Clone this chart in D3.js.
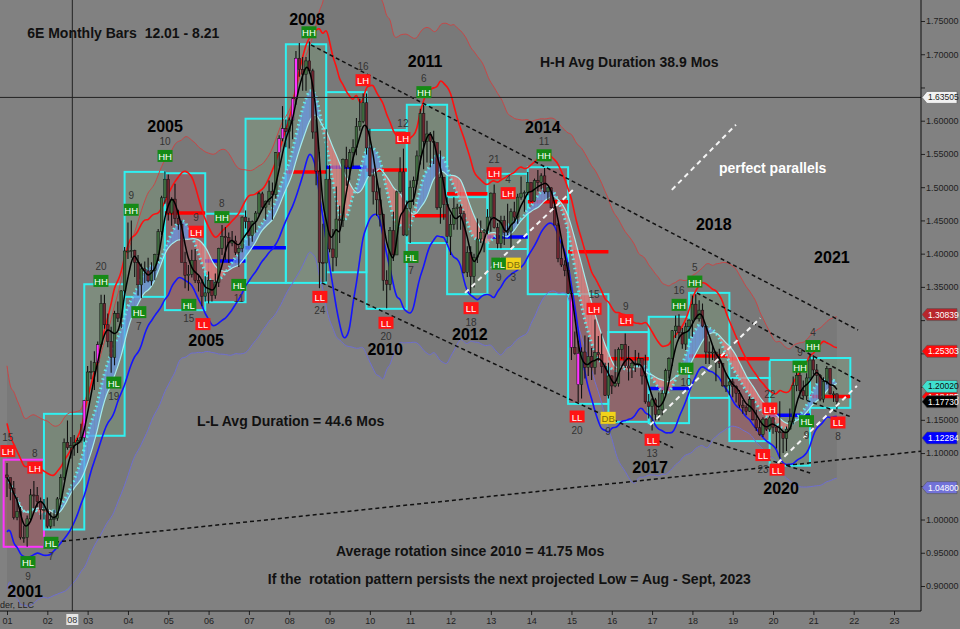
<!DOCTYPE html>
<html>
<head>
<meta charset="UTF-8">
<script src="https://cdn.jsdelivr.net/npm/d3@7"></script>
<style>
  body { margin: 0; background: #818181; }
  svg { display: block; font-family: "Liberation Sans", Arial, sans-serif; }
  .pre { white-space: pre; }
</style>
</head>
<body>
<svg id="chart" width="960" height="629"></svg>
<script>

// ===================== data (monthly bars, Jan 2001 .. Aug 2021) =====================
const firstYear = 2001;
const firstOpen = 1.067;

const barClose = [
  [1.063,1.047,1.003,1.012,0.973,0.973,1.001,1.037,1.036,1.027,1.015,1.015],
  [0.990,1.000,1.002,1.031,1.063,1.116,1.108,1.111,1.116,1.119,1.123,1.179],
  [1.222,1.223,1.236,1.263,1.325,1.293,1.268,1.244,1.310,1.303,1.344,1.404],
  [1.404,1.405,1.387,1.353,1.377,1.374,1.359,1.375,1.399,1.433,1.484,1.512],
  [1.461,1.482,1.453,1.444,1.387,1.367,1.369,1.390,1.360,1.356,1.336,1.341],
  [1.360,1.337,1.357,1.408,1.426,1.424,1.416,1.419,1.402,1.408,1.455,1.448],
  [1.427,1.448,1.461,1.490,1.470,1.479,1.494,1.489,1.552,1.573,1.588,1.584],
  [1.601,1.633,1.694,1.677,1.670,1.690,1.675,1.583,1.524,1.387,1.386,1.512],
  [1.407,1.394,1.452,1.450,1.542,1.530,1.552,1.560,1.591,1.599,1.627,1.559],
  [1.517,1.493,1.481,1.459,1.360,1.354,1.435,1.398,1.493,1.523,1.428,1.468],
  [1.500,1.510,1.547,1.611,1.569,1.580,1.569,1.567,1.469,1.515,1.474,1.426],
  [1.444,1.468,1.470,1.460,1.372,1.402,1.366,1.394,1.422,1.432,1.435,1.455],
  [1.491,1.439,1.415,1.450,1.432,1.434,1.463,1.455,1.485,1.491,1.492,1.507],
  [1.479,1.510,1.507,1.517,1.493,1.499,1.469,1.443,1.393,1.383,1.375,1.340],
  [1.259,1.250,1.203,1.252,1.229,1.245,1.229,1.251,1.248,1.230,1.187,1.216],
  [1.201,1.205,1.256,1.263,1.231,1.228,1.235,1.234,1.242,1.216,1.177,1.170],
  [1.180,1.158,1.165,1.190,1.224,1.242,1.284,1.291,1.281,1.264,1.290,1.300],
  [1.324,1.302,1.315,1.291,1.252,1.251,1.252,1.238,1.235,1.201,1.202,1.207],
  [1.200,1.190,1.172,1.169,1.163,1.181,1.150,1.138,1.128,1.151,1.136,1.153],
  [1.139,1.132,1.131,1.122,1.136,1.148,1.202,1.217,1.194,1.186,1.213,1.240],
  [1.225,1.217,1.181,1.208,1.227,1.189,1.189,1.1773]
];

const barHigh = [
  [1.085,1.063,1.058,1.034,1.019,0.991,1.006,1.046,1.058,1.049,1.033,1.031],
  [1.033,1.011,1.014,1.034,1.068,1.122,1.149,1.124,1.127,1.123,1.144,1.180],
  [1.231,1.239,1.253,1.268,1.338,1.338,1.310,1.290,1.314,1.328,1.345,1.410],
  [1.447,1.450,1.406,1.398,1.385,1.388,1.394,1.387,1.400,1.437,1.487,1.524],
  [1.519,1.485,1.505,1.466,1.450,1.403,1.383,1.406,1.407,1.368,1.362,1.366],
  [1.373,1.360,1.370,1.409,1.443,1.440,1.432,1.434,1.427,1.412,1.456,1.465],
  [1.454,1.450,1.464,1.493,1.493,1.480,1.510,1.507,1.553,1.578,1.622,1.602],
  [1.605,1.635,1.705,1.717,1.696,1.696,1.719,1.678,1.602,1.553,1.445,1.587],
  [1.533,1.437,1.501,1.472,1.543,1.561,1.557,1.572,1.604,1.633,1.641,1.641],
  [1.588,1.527,1.512,1.499,1.460,1.375,1.440,1.463,1.495,1.545,1.558,1.480],
  [1.510,1.516,1.555,1.618,1.624,1.600,1.583,1.585,1.567,1.555,1.515,1.485],
  [1.459,1.485,1.475,1.474,1.464,1.411,1.411,1.400,1.453,1.450,1.437,1.467],
  [1.492,1.504,1.446,1.457,1.457,1.475,1.468,1.478,1.490,1.516,1.495,1.523],
  [1.507,1.513,1.526,1.521,1.529,1.500,1.500,1.474,1.446,1.419,1.390,1.387],
  [1.341,1.283,1.269,1.259,1.277,1.274,1.258,1.301,1.276,1.280,1.236,1.236],
  [1.217,1.256,1.259,1.264,1.280,1.261,1.237,1.255,1.251,1.243,1.248,1.189],
  [1.183,1.183,1.191,1.195,1.227,1.244,1.285,1.307,1.309,1.288,1.296,1.302],
  [1.337,1.339,1.330,1.325,1.293,1.268,1.262,1.251,1.257,1.233,1.220,1.209],
  [1.212,1.202,1.195,1.180,1.172,1.185,1.171,1.165,1.149,1.154,1.152,1.156],
  [1.154,1.134,1.178,1.129,1.140,1.167,1.215,1.224,1.223,1.209,1.220,1.249],
  [1.247,1.234,1.219,1.214,1.231,1.228,1.193,1.190]
];

const barLow = [
  [1.034,1.029,1.000,0.999,0.970,0.965,0.959,0.999,1.017,1.019,1.000,1.000],
  [0.987,0.986,0.990,0.998,1.028,1.059,1.105,1.092,1.096,1.100,1.116,1.117],
  [1.179,1.211,1.195,1.207,1.260,1.287,1.259,1.221,1.232,1.297,1.288,1.340],
  [1.392,1.394,1.365,1.337,1.333,1.356,1.357,1.352,1.360,1.389,1.428,1.475],
  [1.450,1.442,1.445,1.436,1.387,1.348,1.344,1.364,1.356,1.343,1.321,1.328],
  [1.325,1.328,1.332,1.350,1.398,1.391,1.386,1.411,1.398,1.380,1.402,1.438],
  [1.412,1.418,1.432,1.457,1.466,1.451,1.473,1.451,1.483,1.531,1.569,1.560],
  [1.558,1.572,1.624,1.666,1.645,1.645,1.671,1.573,1.503,1.348,1.357,1.358],
  [1.402,1.373,1.381,1.416,1.440,1.502,1.511,1.531,1.548,1.585,1.596,1.549],
  [1.516,1.474,1.457,1.441,1.344,1.318,1.345,1.389,1.398,1.490,1.427,1.426],
  [1.416,1.473,1.504,1.534,1.527,1.537,1.530,1.535,1.466,1.445,1.451,1.416],
  [1.398,1.436,1.436,1.436,1.370,1.365,1.340,1.349,1.386,1.416,1.402,1.429],
  [1.433,1.438,1.408,1.408,1.413,1.428,1.408,1.447,1.445,1.481,1.463,1.488],
  [1.478,1.478,1.494,1.497,1.490,1.480,1.468,1.443,1.387,1.380,1.366,1.340],
  [1.240,1.248,1.176,1.182,1.212,1.216,1.210,1.218,1.239,1.220,1.186,1.182],
  [1.189,1.199,1.200,1.241,1.228,1.209,1.213,1.222,1.230,1.203,1.174,1.152],
  [1.134,1.149,1.149,1.157,1.184,1.212,1.231,1.273,1.272,1.257,1.255,1.272],
  [1.275,1.301,1.298,1.289,1.234,1.234,1.240,1.208,1.228,1.200,1.192,1.187],
  [1.184,1.176,1.168,1.159,1.157,1.162,1.149,1.133,1.126,1.124,1.133,1.132],
  [1.129,1.107,1.092,1.100,1.103,1.135,1.143,1.193,1.183,1.183,1.180,1.210],
  [1.218,1.205,1.178,1.176,1.203,1.188,1.177,1.166]
];

// paint bars (magenta) [year, month]
const paintBars = [[2002,12],[2003,4],[2007,10],[2007,11],[2008,2],[2008,3],[2015,1],[2015,3]];

// cycle boxes, one per year (Dec .. Nov)
const boxYear   = [2001,2002,2003,2004,2005,2006,2007,2008,2009,2010,2011,2012,2013,2014,2015,2016,2017,2018,2019,2020,2021];
const boxTop    = [1.090,1.159,1.354,1.523,1.521,1.460,1.603,1.715,1.643,1.586,1.624,1.485,1.520,1.530,1.339,1.282,1.305,1.341,1.213,1.240,1.243];
const boxBottom = [0.959,0.985,1.126,1.335,1.315,1.327,1.356,1.356,1.372,1.317,1.416,1.339,1.407,1.339,1.174,1.147,1.145,1.183,1.118,1.081,1.168];
const boxTrend  = ["dn","up","up","up","dn","dn","up","up","up","up","up","up","up","dn","dn","dn","up","up","dn","up","up"];

// pivot levels per box year
const levelYear  = [2005,2006,2007,2008,2009,2010,2011,2012,2013,2014,2015,2016,2017,2018,2019,2020,2021];
const levelPrice = [1.461,1.389,1.409,1.523,1.530,1.526,1.457,1.490,1.425,1.478,1.403,1.242,1.197,1.246,1.242,1.157,1.185];
const levelKind  = ["R","B","B","R","B","R","R","R","B","R","R","R","B","R","R","B","R"];

// swing labels [time, price, tag, count, count side]
const swings = [
  [2001.02,1.103,"LH","15",-1],[2001.69,1.078,"LH","8",-1],[2001.52,0.936,"HL","9",1],
  [2002.09,0.965,"HL","7",1],[2003.33,1.359,"HH","20",-1],[2003.65,1.206,"HL","19",1],
  [2004.08,1.466,"HH","9",-1],[2004.27,1.312,"HL","7",1],[2004.92,1.547,"HH","10",-1],
  [2005.69,1.433,"LH","9",-1],[2005.51,1.323,"HL","15",1],[2005.86,1.294,"LL","",0],
  [2006.33,1.455,"HH","8",-1],[2006.75,1.353,"HL","11",1],[2008.49,1.733,"HH","",0],
  [2008.76,1.335,"LL","24",1],[2009.83,1.661,"LH","16",-1],[2010.82,1.574,"LH","12",-1],
  [2011.34,1.643,"HH","6",-1],[2011.02,1.395,"HL","7",1],[2010.40,1.296,"LL","20",1],
  [2013.08,1.521,"LH","21",-1],[2013.43,1.491,"LH","4",-1],[2013.20,1.385,"HL","9",1],
  [2013.56,1.385,"DB","3",1],[2012.51,1.318,"LL","18",1],[2014.32,1.548,"HH","11",-1],
  [2015.56,1.317,"LH","15",-1],[2016.35,1.300,"LH","9",-1],[2015.14,1.155,"LL","20",1],
  [2015.91,1.153,"DB","9",1],[2017.00,1.120,"LL","13",1],[2017.67,1.323,"HH","16",-1],
  [2018.06,1.358,"HH","5",-1],[2017.84,1.227,"HL","10",1],[2019.92,1.167,"LH","22",-1],
  [2019.75,1.097,"LL","23",1],[2020.10,1.075,"LL","",0],[2020.83,1.148,"HL","9",1],
  [2020.67,1.230,"HH","9",-1],[2020.99,1.261,"HH","4",-1],[2021.61,1.146,"LL","8",1]
];

// year captions [text, time, price]
const yearNotes = [
  ["2001",2001.45,0.893],["2005",2004.92,1.592],["2005",2005.94,1.270],["2008",2008.44,1.753],
  ["2010",2010.38,1.257],["2011",2011.37,1.690],["2012",2012.48,1.279],["2014",2014.29,1.591],
  ["2017",2016.95,1.079],["2018",2018.53,1.445],["2020",2020.20,1.048],["2021",2021.46,1.395]
];

// free text notes [text, time, price]
const textNotes = [
  ["6E Monthly Bars  12.01 - 8.21", 2001.50, 1.7244],
  ["H-H Avg Duration 38.9 Mos", 2014.22, 1.6808],
  ["L-L Avg Duration = 44.6 Mos", 2005.71, 1.141],
  ["Average rotation since 2010 = 41.75 Mos", 2009.16, 0.9455],
  ["If the  rotation pattern persists the next projected Low = Aug - Sept, 2023", 2007.47, 0.9034]
];
const whiteNote = ["perfect parallels", 2018.66, 1.5214];

// trend lines [t1, p1, t2, p2]
const blackTrends = [
  [2008.54,1.714,2022.11,1.285],
  [2008.81,1.356,2017.52,1.108],
  [2018.11,1.341,2022.21,1.206],
  [2017.69,1.132,2020.92,1.070],
  [2020.67,1.183,2021.91,1.155],
  [2002.02,0.965,2023.70,1.103]
];
const whiteTrends = [
  [2012.36,1.341,2015.09,1.499],
  [2016.95,1.142,2019.68,1.303],
  [2020.12,1.085,2022.08,1.201],
  [2017.49,1.496,2019.08,1.594]
];

// right side price tags
const tagValues = [1.63505,1.30839,1.25303,1.18485,1.20020,1.17730,1.12284,1.04800];
const priceTicks = d3.range(0.90, 1.7501, 0.05);
const yearTicks = d3.range(2001, 2024);
const crossTime = 2002.62, crossPrice = 1.63505;

// ===================== layout =====================
const plotR = 921, plotB = 611;
const svg = d3.select("#chart");
const x = d3.scaleLinear().domain([2001, 2023]).range([7, 894]);
const y = d3.scaleLinear().domain([0.90, 1.75]).range([586, 21]);

svg.append("defs").append("clipPath").attr("id", "plotclip")
  .append("rect").attr("x", 0).attr("y", 0).attr("width", plotR).attr("height", plotB);
const g = svg.append("g").attr("clip-path", "url(#plotclip)");

// ---- bars
const closes = barClose.flat(), highs = barHigh.flat(), lows = barLow.flat();
const bars = closes.map((c, i) => {
  const o = i === 0 ? firstOpen : closes[i - 1];
  return { t: firstYear + i / 12, o: o, c: c, h: Math.max(highs[i], o, c), l: Math.min(lows[i], o, c),
           yr: firstYear + Math.floor(i / 12), mo: i % 12 + 1 };
});

// ---- indicators from closes
function sma(v, n) { return v.map((_, i) => d3.mean(v.slice(Math.max(0, i - n + 1), i + 1))); }
const tr = bars.map((b, i) => i ? Math.max(b.h - b.l, Math.abs(b.h - bars[i-1].c), Math.abs(b.l - bars[i-1].c)) : b.h - b.l);
const fast = sma(closes, 4), dotMA = sma(closes, 9), slowMA = sma(closes, 14);
const mid10 = sma(closes, 10), atr10 = sma(tr, 10);
const mid20 = sma(closes, 20), atr20 = sma(tr, 20);
const innerUp = mid10.map((m, i) => m + 1.6 * atr10[i]);
const innerDn = mid10.map((m, i) => m - 1.6 * atr10[i]);
const outerUp = mid20.map((m, i) => m + 3.3 * atr20[i]);
const outerDn = mid20.map((m, i) => m - 3.3 * atr20[i]);

const lineOf = arr => d3.line().x((d, i) => x(bars[i].t)).y(d => y(d)).curve(d3.curveBasis)(arr);

// band shading
g.append("path")
  .attr("d", d3.area().x((d, i) => x(bars[i].t)).y0((d, i) => y(outerDn[i])).y1(d => y(d)).curve(d3.curveBasis)(outerUp))
  .attr("fill", "rgba(0,0,0,0.055)");

// ---- boxes
boxYear.forEach((yr, i) => {
  const x0 = x(yr - 1 / 12), x1 = x(yr + 11 / 12);
  g.append("rect")
    .attr("x", x0).attr("y", y(boxTop[i]))
    .attr("width", x1 - x0).attr("height", y(boxBottom[i]) - y(boxTop[i]))
    .attr("fill", boxTrend[i] === "up" ? "rgba(120,165,120,0.32)" : "rgba(175,70,85,0.38)")
    .attr("stroke", i === 0 ? "#ff33ff" : "#30f0f0").attr("stroke-width", 2);
});

// ---- pivot levels
levelYear.forEach((yr, i) => {
  g.append("line")
    .attr("x1", x(yr - 1 / 12)).attr("x2", x(yr + 11 / 12))
    .attr("y1", y(levelPrice[i])).attr("y2", y(levelPrice[i]))
    .attr("stroke", levelKind[i] === "R" ? "#ff0000" : "#0000ff").attr("stroke-width", 3.5);
});

// ---- ribbon between dotted and slow MA
for (let i = 0; i < bars.length - 1; i++) {
  const pts = [[x(bars[i].t), y(dotMA[i])], [x(bars[i+1].t), y(dotMA[i+1])],
               [x(bars[i+1].t), y(slowMA[i+1])], [x(bars[i].t), y(slowMA[i])]];
  g.append("polygon").attr("points", pts.map(p => p.join(",")).join(" "))
    .attr("fill", dotMA[i] >= slowMA[i] ? "#6a98e6" : "#e68080").attr("opacity", 0.75);
}

// ---- band lines
g.append("path").attr("d", lineOf(outerUp)).attr("fill", "none").attr("stroke", "#c84646").attr("stroke-width", 1);
g.append("path").attr("d", lineOf(outerDn)).attr("fill", "none").attr("stroke", "#6e6ed2").attr("stroke-width", 1);
g.append("path").attr("d", lineOf(innerUp)).attr("fill", "none").attr("stroke", "#ff1010").attr("stroke-width", 1.6);
g.append("path").attr("d", lineOf(innerDn)).attr("fill", "none").attr("stroke", "#1414ff").attr("stroke-width", 1.6);
g.append("path").attr("d", lineOf(slowMA)).attr("fill", "none").attr("stroke", "#a4ecec").attr("stroke-width", 1.2);
g.append("path").attr("d", lineOf(dotMA)).attr("fill", "none").attr("stroke", "#66e6e6")
  .attr("stroke-width", 3).attr("stroke-dasharray", "1.6,3");

// ---- candles
const isPaint = b => paintBars.some(p => p[0] === b.yr && p[1] === b.mo);
const cg = g.append("g");
cg.selectAll("line.wick").data(bars).join("line").attr("class", "wick")
  .attr("x1", d => x(d.t)).attr("x2", d => x(d.t))
  .attr("y1", d => y(d.h)).attr("y2", d => y(d.l))
  .attr("stroke", "#111").attr("stroke-width", 1.1);
cg.selectAll("rect.body").data(bars).join("rect").attr("class", "body")
  .attr("x", d => x(d.t) - 1.3).attr("width", 2.6)
  .attr("y", d => y(Math.max(d.o, d.c)))
  .attr("height", d => Math.max(1, Math.abs(y(d.o) - y(d.c))))
  .attr("fill", d => isPaint(d) ? "#ff33ff" : (d.c >= d.o ? "#3e6b3e" : "#6e2630"))
  .attr("stroke", "#111").attr("stroke-width", 0.5);

g.append("path").attr("d", lineOf(fast)).attr("fill", "none").attr("stroke", "#000").attr("stroke-width", 1.5);

// ---- trend lines
blackTrends.forEach(d => g.append("line")
  .attr("x1", x(d[0])).attr("y1", y(d[1])).attr("x2", x(d[2])).attr("y2", y(d[3]))
  .attr("stroke", "#111").attr("stroke-width", 1.5).attr("stroke-dasharray", "4,3"));
whiteTrends.forEach(d => g.append("line")
  .attr("x1", x(d[0])).attr("y1", y(d[1])).attr("x2", x(d[2])).attr("y2", y(d[3]))
  .attr("stroke", "#f4f4f4").attr("stroke-width", 2).attr("stroke-dasharray", "5,4"));

// ---- crosshair
g.append("line").attr("x1", x(crossTime)).attr("x2", x(crossTime)).attr("y1", 0).attr("y2", plotB)
  .attr("stroke", "#222").attr("stroke-width", 1);
g.append("line").attr("x1", 0).attr("x2", plotR).attr("y1", y(crossPrice)).attr("y2", y(crossPrice))
  .attr("stroke", "#222").attr("stroke-width", 1);

// ---- swing labels
const badgeFill = { HH: "#158a15", HL: "#158a15", LH: "#ff1414", LL: "#ff1414", DB: "#f2d21a" };
swings.forEach(d => {
  const cx = x(d[0]), cy = y(d[1]);
  g.append("rect").attr("x", cx - 7.5).attr("y", cy - 6).attr("width", 15).attr("height", 12)
    .attr("fill", badgeFill[d[2]]);
  g.append("text").attr("x", cx).attr("y", cy + 4).attr("text-anchor", "middle")
    .attr("font-size", 9.5).attr("fill", d[2] === "DB" ? "#7a6a10" : "#fff").text(d[2]);
  if (d[3]) g.append("text").attr("x", cx).attr("y", cy + d[4] * 14 + 3.5).attr("text-anchor", "middle")
    .attr("font-size", 10).attr("fill", "#333").text(d[3]);
});

// ---- captions
yearNotes.forEach(d => g.append("text").attr("x", x(d[1])).attr("y", y(d[2]) + 6)
  .attr("text-anchor", "middle").attr("font-size", 16).attr("font-weight", "bold").attr("fill", "#000").text(d[0]));
textNotes.forEach(d => g.append("text").attr("class", "pre").attr("x", x(d[1])).attr("y", y(d[2]))
  .attr("font-size", 14).attr("font-weight", "bold").attr("fill", "#111").text(d[0]));
g.append("text").attr("x", x(whiteNote[1])).attr("y", y(whiteNote[2]))
  .attr("font-size", 14).attr("font-weight", "bold").attr("fill", "#fff").text(whiteNote[0]);
g.append("text").attr("x", 0).attr("y", 608).attr("font-size", 9).attr("fill", "#222").text("der, LLC");

// ---- axes (tick labels hidden where a price tag sits on them)
const yAxis = d3.axisRight(y).tickValues(priceTicks).tickFormat(d3.format(".5f")).tickSize(4).tickSizeOuter(0);
const ya = svg.append("g").attr("transform", `translate(${plotR},0)`).call(yAxis);
const xAxis = d3.axisBottom(x).tickValues(yearTicks).tickFormat(d => d3.format("02d")(d % 100)).tickSize(4).tickSizeOuter(0);
const xa = svg.append("g").attr("transform", `translate(0,${plotB})`).call(xAxis);
[ya, xa].forEach(a => {
  a.select(".domain").remove();
  a.selectAll("line").attr("stroke", "#222");
  a.selectAll("text").attr("fill", "#222").attr("font-size", 9).attr("font-family", "Liberation Sans, Arial, sans-serif");
});
ya.selectAll("text").attr("x", 5)
  .style("display", d => tagValues.some(v => Math.abs(y(v) - y(d)) < 11) ? "none" : null);
xa.selectAll("text").style("display", d => Math.abs(x(d) - x(crossTime)) < 12 ? "none" : null);
svg.append("line").attr("x1", plotR).attr("x2", plotR).attr("y1", 0).attr("y2", plotB).attr("stroke", "#111");
svg.append("line").attr("x1", 0).attr("x2", plotR).attr("y1", plotB).attr("y2", plotB).attr("stroke", "#111");

// crosshair month on time axis
const cxm = x(crossTime);
svg.append("rect").attr("x", cxm - 6).attr("y", plotB + 3).attr("width", 12).attr("height", 11).attr("fill", "#e4e4e4");
svg.append("text").attr("x", cxm).attr("y", plotB + 12).attr("text-anchor", "middle")
  .attr("font-size", 9).attr("fill", "#333").text("08");

// ---- price tags (the 1.18485 tag sits behind its neighbours, as on the source)
const tagStyle = [["#f2f2f2", "#222"], ["#b8262c", "#fff"], ["#ff0a0a", "#fff"], ["#ff0a0a", "#fff"],
                  ["#40e0d0", "#111"], ["#000000", "#fff"], ["#0000ff", "#fff"], ["#7272d8", "#fff"]];
tagValues.forEach((v, i) => {
  const ty = y(v);
  svg.append("path")
    .attr("d", `M${plotR + 1},${ty} L${plotR + 6},${ty - 6} L${plotR + 36},${ty - 6} L${plotR + 36},${ty + 6} L${plotR + 6},${ty + 6} Z`)
    .attr("fill", tagStyle[i][0]).attr("stroke", "#555").attr("stroke-width", 0.6);
  svg.append("text").attr("x", plotR + 7).attr("y", ty + 3).attr("font-size", 8.5)
    .attr("fill", tagStyle[i][1]).text(d3.format(".5f")(v));
});

</script>
</body>
</html>
